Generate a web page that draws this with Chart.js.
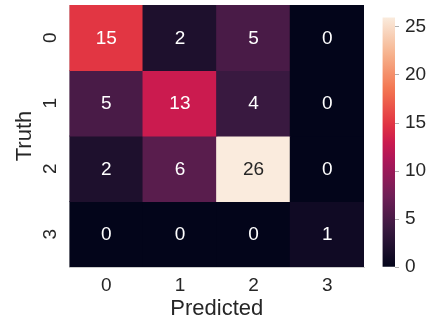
<!DOCTYPE html>
<html>
<head>
<meta charset="utf-8">
<script src="https://cdn.jsdelivr.net/npm/chart.js@4/dist/chart.umd.min.js"></script>
<style>
  html, body { margin: 0; padding: 0; background: #ffffff; }
  #wrap { position: relative; width: 433px; height: 322px; }
  #heat { position: absolute; left: 0; top: 0; }
  #cbar { position: absolute; left: 370px; top: 0; }
</style>
</head>
<body>
<div id="wrap">
  <canvas id="heat" width="380" height="322"></canvas>
  <canvas id="cbar" width="63" height="322"></canvas>
</div>
<script>
// Confusion matrix: rows are the true class, columns the predicted class
const predictedLabels = ['0', '1', '2', '3'];
const truthLabels = ['0', '1', '2', '3'];
const truth0 = [15, 2, 5, 0];
const truth1 = [5, 13, 4, 0];
const truth2 = [2, 6, 26, 0];
const truth3 = [0, 0, 0, 1];
const matrixRows = [truth0, truth1, truth2, truth3];
const colorMin = 0;
const colorMax = 26;
const colorbarTicks = [0, 5, 10, 15, 20, 25];

// "rocket" colormap anchor stops
const rocketStops = [
  [0.000, [3, 5, 26]],
  [0.143, [53, 25, 62]],
  [0.286, [112, 31, 87]],
  [0.429, [173, 23, 89]],
  [0.500, [203, 27, 79]],
  [0.571, [225, 51, 66]],
  [0.714, [243, 118, 81]],
  [0.857, [246, 180, 143]],
  [1.000, [250, 235, 221]]
];

function rocketRGB(t) {
  t = Math.max(0, Math.min(1, t));
  for (let i = 1; i < rocketStops.length; i++) {
    const [t1, c1] = rocketStops[i];
    const [t0, c0] = rocketStops[i - 1];
    if (t <= t1) {
      const f = (t - t0) / (t1 - t0);
      return c0.map((v, k) => Math.round(v + (c1[k] - v) * f));
    }
  }
  return rocketStops[rocketStops.length - 1][1];
}
function rocket(t) {
  const c = rocketRGB(t);
  return `rgb(${c[0]},${c[1]},${c[2]})`;
}
function norm(v) { return (v - colorMin) / (colorMax - colorMin); }

const FONT = "'Liberation Sans', Arial, sans-serif";
const TEXT_DARK = '#262626';
const SPINE = '#cccccc';

// One dataset per truth row; each cell is a floating bar spanning its row
const datasets = matrixRows.map((row, r) => ({
  label: 'Truth ' + truthLabels[r],
  data: row.map(() => [r - 0.5, r + 0.5]),
  values: row,
  backgroundColor: row.map(v => rocket(norm(v))),
  borderWidth: 0,
  inflateAmount: 0.6,
  barPercentage: 1.0,
  categoryPercentage: 1.0,
  grouped: false
}));

// Value annotations inside each cell
const cellText = {
  id: 'cellText',
  afterDatasetsDraw(chart) {
    const ctx = chart.ctx;
    const xs = chart.scales.x, ys = chart.scales.y;
    ctx.save();
    ctx.font = `19px ${FONT}`;
    ctx.textAlign = 'center';
    ctx.textBaseline = 'middle';
    chart.data.datasets.forEach((ds, r) => {
      ds.values.forEach((v, c) => {
        const [cr, cg, cb] = rocketRGB(norm(v));
        const lum = 0.299 * cr + 0.587 * cg + 0.114 * cb;
        ctx.fillStyle = lum > 128 ? TEXT_DARK : '#ffffff';
        ctx.fillText(String(v), xs.getPixelForValue(c), ys.getPixelForValue(r) + 1);
      });
    });
    ctx.restore();
  }
};

// Row labels, rotated to read bottom-to-top, centred on each row
const rowLabels = {
  id: 'rowLabels',
  afterDraw(chart) {
    const ctx = chart.ctx;
    const ys = chart.scales.y;
    ctx.save();
    ctx.font = `19px ${FONT}`;
    ctx.fillStyle = TEXT_DARK;
    ctx.textAlign = 'center';
    ctx.textBaseline = 'middle';
    ys.ticks.forEach(t => {
      ctx.save();
      ctx.translate(ys.right - 19, ys.getPixelForValue(t.value));
      ctx.rotate(-Math.PI / 2);
      ctx.fillText(truthLabels[t.value], 0, 0);
      ctx.restore();
    });
    ctx.restore();
  }
};

new Chart(document.getElementById('heat'), {
  type: 'bar',
  data: { labels: predictedLabels, datasets },
  options: {
    responsive: false,
    animation: false,
    events: [],
    layout: { padding: { top: 5, right: 16, left: 0, bottom: 0 } },
    plugins: { legend: { display: false }, tooltip: { enabled: false } },
    scales: {
      x: {
        type: 'category',
        offset: true,
        grid: { display: false, drawTicks: false },
        border: { display: true, color: SPINE, width: 1 },
        ticks: { color: TEXT_DARK, font: { family: FONT, size: 19 }, padding: 7 },
        title: {
          display: true, text: 'Predicted', color: TEXT_DARK,
          font: { family: FONT, size: 22 }, padding: { top: 0, bottom: 0 }
        },
        afterFit(scale) { scale.height = 55; }
      },
      y: {
        type: 'linear',
        min: -0.5,
        max: 3.5,
        reverse: true,
        grid: { display: false, drawTicks: false },
        border: { display: true, color: SPINE, width: 1 },
        afterBuildTicks(scale) {
          scale.ticks = truthLabels.map((_, i) => ({ value: i }));
        },
        ticks: { display: false },
        title: {
          display: true, text: 'Truth', color: TEXT_DARK,
          font: { family: FONT, size: 22 }, padding: { top: 12, bottom: 0 }
        },
        afterFit(scale) { scale.width = 69.5; }
      }
    }
  },
  plugins: [cellText, rowLabels]
});

// Colour bar: a single floating bar over the full value range, filled with the colormap
new Chart(document.getElementById('cbar'), {
  type: 'bar',
  data: {
    labels: [''],
    datasets: [{
      data: [[colorMin, colorMax]],
      borderWidth: 0,
      barPercentage: 1.0,
      categoryPercentage: 1.0,
      backgroundColor(context) {
        const chart = context.chart;
        const area = chart.chartArea;
        if (!area) return rocket(0.5);
        const ys = chart.scales.y;
        const g = chart.ctx.createLinearGradient(0, ys.getPixelForValue(colorMin), 0, ys.getPixelForValue(colorMax));
        for (let i = 0; i <= 32; i++) g.addColorStop(i / 32, rocket(i / 32));
        return g;
      }
    }]
  },
  options: {
    responsive: false,
    animation: false,
    events: [],
    layout: { padding: { top: 5, left: 12.5, right: 0, bottom: 55 } },
    plugins: { legend: { display: false }, tooltip: { enabled: false } },
    scales: {
      x: { display: false, offset: true },
      y: {
        position: 'right',
        min: colorMin,
        max: colorMax,
        afterBuildTicks(scale) {
          scale.ticks = colorbarTicks.map(v => ({ value: v }));
        },
        grid: { drawOnChartArea: false, drawTicks: true, tickLength: 4, color: '#b0b0b0' },
        border: { display: false },
        ticks: { color: TEXT_DARK, font: { family: FONT, size: 19 }, padding: 6 },
        afterFit(scale) { scale.width = 38; }
      }
    }
  }
});
</script>
</body>
</html>
